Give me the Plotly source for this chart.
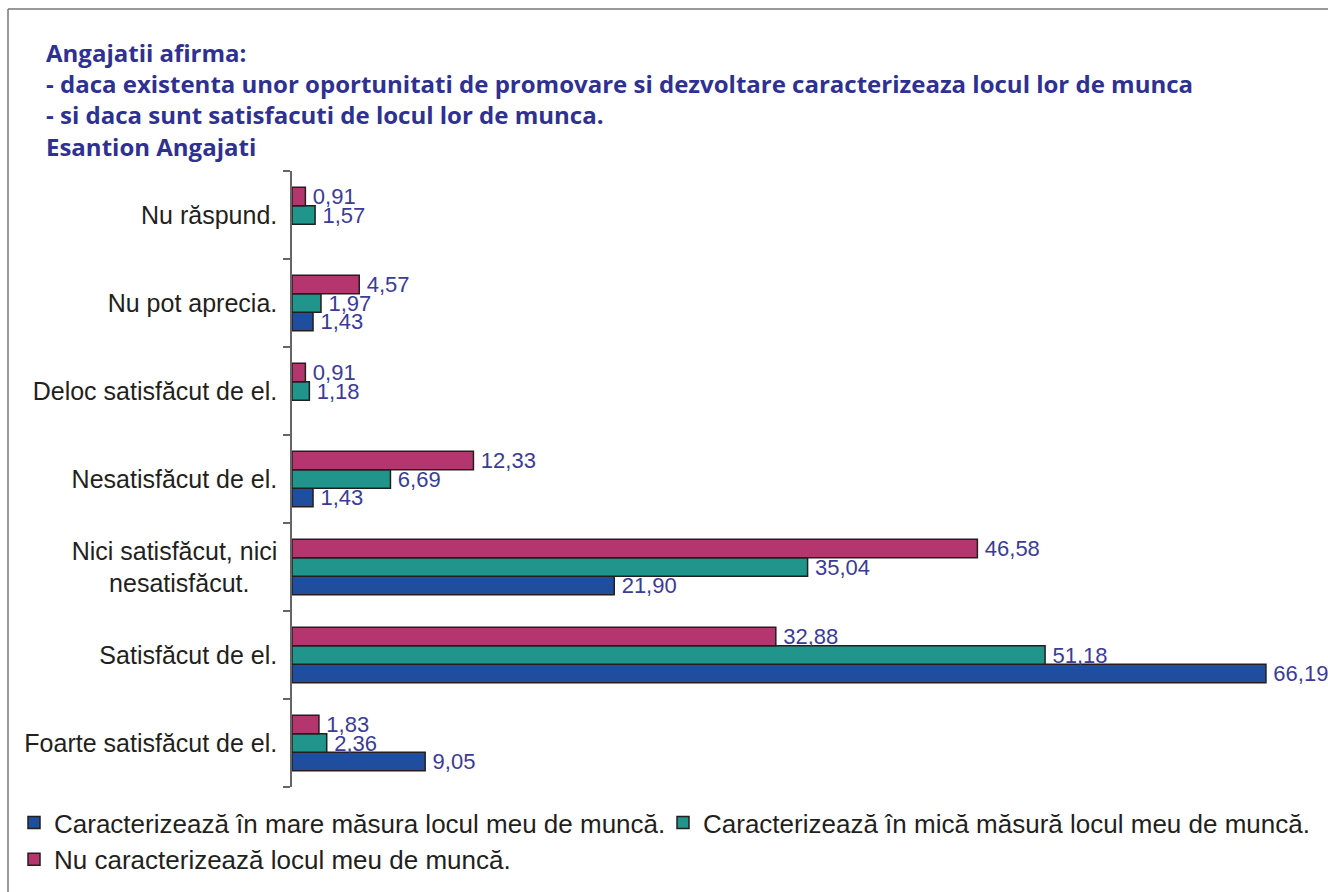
import plotly.graph_objects as go

# Response categories, listed from the bottom of the chart upwards
categories = [
    "Foarte satisfăcut de el.",
    "Satisfăcut de el.",
    "Nici satisfăcut, nici<br>nesatisfăcut.\u00a0\u00a0\u00a0\u00a0",
    "Nesatisfăcut de el.",
    "Deloc satisfăcut de el.",
    "Nu pot aprecia.",
    "Nu răspund.",
]

series_names = [
    "Caracterizează în mare măsura locul meu de muncă.",
    "Caracterizează în mică măsură locul meu de muncă.",
    "Nu caracterizează locul meu de muncă.",
]

# Percentages per category (None = no answer in that group)
mare_masura = [9.05, 66.19, 21.90, 1.43, None, 1.43, None]
mica_masura = [2.36, 51.18, 35.04, 6.69, 1.18, 1.97, 1.57]
nu_caracterizeaza = [1.83, 32.88, 46.58, 12.33, 0.91, 4.57, 0.91]

colors = ["#1F4E9F", "#1F958B", "#B5366F"]

title_lines = [
    "Angajatii afirma:",
    "- daca existenta unor oportunitati de promovare si dezvoltare caracterizeaza locul lor de munca",
    "- si daca sunt satisfacuti de locul lor de munca.",
    "Esantion Angajati",
]

W, H = 1328, 892
ML, MR, MT, MB = 292, 6, 171, 105
PW, PH = W - ML - MR, H - MT - MB


def px_x(x):
    return (x - ML) / PW


def px_y(y):
    return (H - MB - y) / PH


fig = go.Figure()
for name, vals, col in zip(series_names, [mare_masura, mica_masura, nu_caracterizeaza], colors):
    fig.add_trace(go.Bar(
        y=categories,
        x=vals,
        name=name,
        orientation="h",
        marker=dict(color=col, line=dict(color="#231F20", width=1.5)),
        texttemplate="\u2009%{x:.2f}",
        textposition="outside",
        textfont=dict(family="Liberation Sans, Arial", size=22, color="#3B3B98"),
        constraintext="none",
        cliponaxis=False,
    ))

fig.update_layout(
    width=W,
    height=H,
    barmode="group",
    bargap=0.37,
    bargroupgap=0,
    separators=", ",
    paper_bgcolor="white",
    plot_bgcolor="white",
    margin=dict(l=ML, r=MR, t=MT, b=MB, autoexpand=False),
    font=dict(family="Liberation Sans, Arial", color="#231F20"),
    title=dict(
        text="<br>".join(title_lines),
        x=46 / W,
        xanchor="left",
        xref="container",
        y=1 - 62 / H,
        yref="container",
        yanchor="top",
        font=dict(family="Open Sans", size=24, color="#2E3192", weight="bold"),
    ),
    xaxis=dict(
        range=[0, 70],
        visible=False,
        showgrid=False,
        zeroline=False,
    ),
    yaxis=dict(
        type="category",
        range=[-0.5, 6.5],
        showline=True,
        linecolor="#666666",
        linewidth=1.5,
        ticks="outside",
        tickson="boundaries",
        ticklen=7,
        tickcolor="#666666",
        tickwidth=1.5,
        ticklabelstandoff=8,
        tickfont=dict(family="Liberation Sans, Arial", size=25, color="#231F20"),
        showgrid=False,
        zeroline=False,
    ),
    legend=dict(
        orientation="h",
        x=px_x(14),
        xanchor="left",
        y=px_y(799),
        yanchor="top",
        entrywidth=604,
        traceorder="normal",
        font=dict(family="Liberation Sans, Arial", size=26, color="#231F20"),
        bgcolor="rgba(0,0,0,0)",
    ),
    shapes=[
        dict(type="line", xref="paper", yref="paper",
             x0=px_x(8), x1=px_x(W + 5), y0=px_y(9), y1=px_y(9),
             line=dict(color="#777777", width=1.5)),
        dict(type="line", xref="paper", yref="paper",
             x0=px_x(8), x1=px_x(8), y0=px_y(9), y1=px_y(H + 5),
             line=dict(color="#777777", width=1.5)),
    ],
)

fig.write_html("out.html")
